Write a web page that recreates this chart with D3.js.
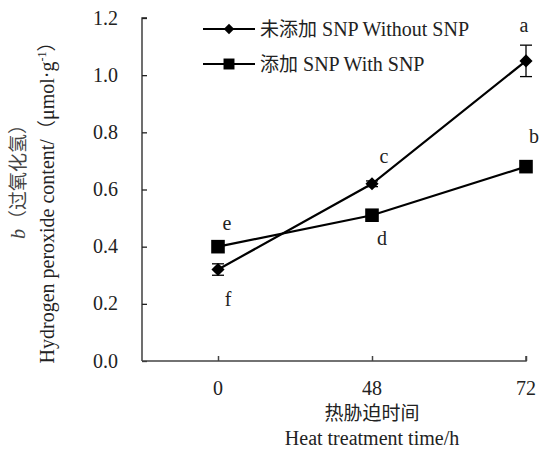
<!DOCTYPE html>
<html lang="en">
  <head>
    <meta charset="UTF-8" />
    <title>Hydrogen peroxide content</title>
    <style>
      body { margin: 0; background: #fff; }
    </style>
    <script src="https://d3js.org/d3.v7.min.js"></script>
  </head>
  <body>
  <script>
    const times = ["0", "48", "72"]
    const yTicks = [0, 0.2, 0.4, 0.6, 0.8, 1.0, 1.2]

    const withoutSNP = [0.32, 0.62, 1.05]
    const withoutErr = [0.02, 0.01, 0.055]
    const withoutLetters = ["f", "c", "a"]

    const withSNP = [0.40, 0.51, 0.68]
    const withErr = [0.005, 0.005, 0.005]
    const withLetters = ["e", "d", "b"]

    const SERIF = "'Liberation Serif', 'DejaVu Serif', serif"
    const CJK = "'Noto Sans CJK SC', sans-serif"
    const FS = "20px"

    const width = 540, height = 457
    const margin = { top: 18, right: 14, bottom: 96, left: 142 }

    const svg = d3.select("body").append("svg")
        .attr("width", width)
        .attr("height", height)
        .style("font-family", SERIF)

    const x = d3.scalePoint()
        .domain(["", ...times])
        .range([margin.left - 78, width - margin.right])

    const y = d3.scaleLinear()
        .domain([0, 1.2])
        .range([height - margin.bottom, margin.top])

    // y axis, ticks inside
    const yAxis = svg.append("g")
        .attr("transform", `translate(${margin.left},0)`)
        .call(d3.axisRight(y).tickValues(yTicks).tickSize(5))
    yAxis.selectAll("text").remove()
    yAxis.select(".domain").attr("d", `M${5},${y(1.2)}H0V${y(0)}`)
    yAxis.selectAll("path, line").attr("stroke", "#222").attr("stroke-width", 1.3)

    svg.append("g").selectAll("text")
        .data(yTicks)
        .join("text")
        .attr("x", 118)
        .attr("y", d => y(d))
        .attr("dy", "0.33em")
        .attr("text-anchor", "end")
        .style("font-family", SERIF)
        .style("font-size", FS)
        .attr("fill", "#222")
        .text(d => d3.format(".1f")(d))

    // x axis, ticks pointing up
    const xAxis = svg.append("g")
        .attr("transform", `translate(0,${y(0)})`)
        .call(d3.axisTop(x).tickValues(times).tickSize(5))
    xAxis.selectAll("text").remove()
    xAxis.select(".domain").attr("d", `M${margin.left},0H${x("72")}V-5`)
    xAxis.selectAll("path, line").attr("stroke", "#444").attr("stroke-width", 1.5)

    svg.append("g").selectAll("text")
        .data(times)
        .join("text")
        .attr("x", d => x(d))
        .attr("y", y(0) + 34)
        .attr("text-anchor", "middle")
        .style("font-family", SERIF)
        .style("font-size", FS)
        .attr("fill", "#222")
        .text(d => d)

    // axis titles
    svg.append("text")
        .attr("x", x("48")).attr("y", 420)
        .attr("text-anchor", "middle")
        .style("font-family", CJK)
        .style("font-size", "19px")
        .attr("fill", "#222")
        .text("热胁迫时间")
    svg.append("text")
        .attr("x", x("48")).attr("y", 445)
        .attr("text-anchor", "middle")
        .style("font-family", SERIF)
        .style("font-size", FS)
        .attr("fill", "#222")
        .text("Heat treatment time/h")

    const yt1 = svg.append("text")
        .attr("transform", "translate(25,177) rotate(-90)")
        .attr("text-anchor", "middle")
        .attr("fill", "#444")
        .style("font-family", SERIF)
        .style("font-size", FS)
    yt1.append("tspan").style("font-style", "italic").text("b")
    yt1.append("tspan").style("font-family", CJK).style("font-size", "19px").text("（过氧化氢）")

    const yt2 = svg.append("text")
        .attr("transform", "translate(54,198) rotate(-90)")
        .attr("text-anchor", "middle")
        .attr("fill", "#222")
        .style("font-family", SERIF)
        .style("font-size", FS)
    yt2.append("tspan").text("Hydrogen peroxide content/")
    yt2.append("tspan").style("font-family", CJK).style("font-size", "19px").text("（")
    yt2.append("tspan").text("μmol·g")
    yt2.append("tspan").style("font-size", "12px").attr("dy", -8).text("-1")
    yt2.append("tspan").style("font-family", CJK).style("font-size", "19px").attr("dy", 8).text("）")

    const line = d3.line().x((d, i) => x(times[i])).y(d => y(d))
    const diamond = d3.symbol().type(d3.symbolDiamond2).size(110)
    const square = d3.symbol().type(d3.symbolSquare).size(185)

    function drawSeries(vals, errs, sym) {
      const g = svg.append("g")
      g.append("path")
          .datum(vals)
          .attr("fill", "none")
          .attr("stroke", "#000")
          .attr("stroke-width", 2.2)
          .attr("d", line)
      const eb = g.selectAll(".eb").data(vals).join("g")
      eb.append("line")
          .attr("x1", (d, i) => x(times[i])).attr("x2", (d, i) => x(times[i]))
          .attr("y1", (d, i) => y(d + errs[i])).attr("y2", (d, i) => y(d - errs[i]))
          .attr("stroke", "#000").attr("stroke-width", 1.3)
      eb.append("line")
          .attr("x1", (d, i) => x(times[i]) - 6).attr("x2", (d, i) => x(times[i]) + 6)
          .attr("y1", (d, i) => y(d + errs[i])).attr("y2", (d, i) => y(d + errs[i]))
          .attr("stroke", "#000").attr("stroke-width", 1.3)
      eb.append("line")
          .attr("x1", (d, i) => x(times[i]) - 6).attr("x2", (d, i) => x(times[i]) + 6)
          .attr("y1", (d, i) => y(d - errs[i])).attr("y2", (d, i) => y(d - errs[i]))
          .attr("stroke", "#000").attr("stroke-width", 1.3)
      g.selectAll(".pt").data(vals).join("path")
          .attr("transform", (d, i) => `translate(${x(times[i])},${y(d)})`)
          .attr("d", sym)
          .attr("fill", "#000")
    }
    drawSeries(withSNP, withErr, square)
    drawSeries(withoutSNP, withoutErr, diamond)

    // significance letters
    const letterPos = [
      { t: "0", v: withoutSNP[0], l: withoutLetters[0], dx: 10, dy: 36 },
      { t: "48", v: withoutSNP[1], l: withoutLetters[1], dx: 12, dy: -21 },
      { t: "72", v: withoutSNP[2], l: withoutLetters[2], dx: -2, dy: -29 },
      { t: "0", v: withSNP[0], l: withLetters[0], dx: 9, dy: -17 },
      { t: "48", v: withSNP[1], l: withLetters[1], dx: 10, dy: 30 },
      { t: "72", v: withSNP[2], l: withLetters[2], dx: 8, dy: -24 }
    ]
    svg.append("g").selectAll("text")
        .data(letterPos)
        .join("text")
        .attr("x", d => x(d.t) + d.dx)
        .attr("y", d => y(d.v) + d.dy)
        .attr("text-anchor", "middle")
        .attr("fill", "#222")
        .style("font-family", SERIF)
        .style("font-size", FS)
        .text(d => d.l)

    // legend
    const legendItems = [
      { cn: "未添加", en: " SNP Without SNP", sym: d3.symbol().type(d3.symbolDiamond2).size(70) },
      { cn: "添加", en: " SNP With SNP", sym: d3.symbol().type(d3.symbolSquare).size(120) }
    ]
    const lg = svg.append("g").selectAll("g")
        .data(legendItems)
        .join("g")
        .attr("transform", (d, i) => `translate(203,${29 + i * 35})`)
    lg.append("line").attr("x1", 0).attr("x2", 52).attr("stroke", "#000").attr("stroke-width", 2.2)
    lg.append("path").attr("transform", "translate(26,0)").attr("d", d => d.sym()).attr("fill", "#000")
    const lt = lg.append("text").attr("x", 57).attr("dy", "0.33em")
        .attr("fill", "#222")
        .style("font-family", SERIF)
        .style("font-size", FS)
    lt.append("tspan").style("font-family", CJK).style("font-size", "19px").text(d => d.cn)
    lt.append("tspan").text(d => d.en)
  </script>
  </body>
</html>
